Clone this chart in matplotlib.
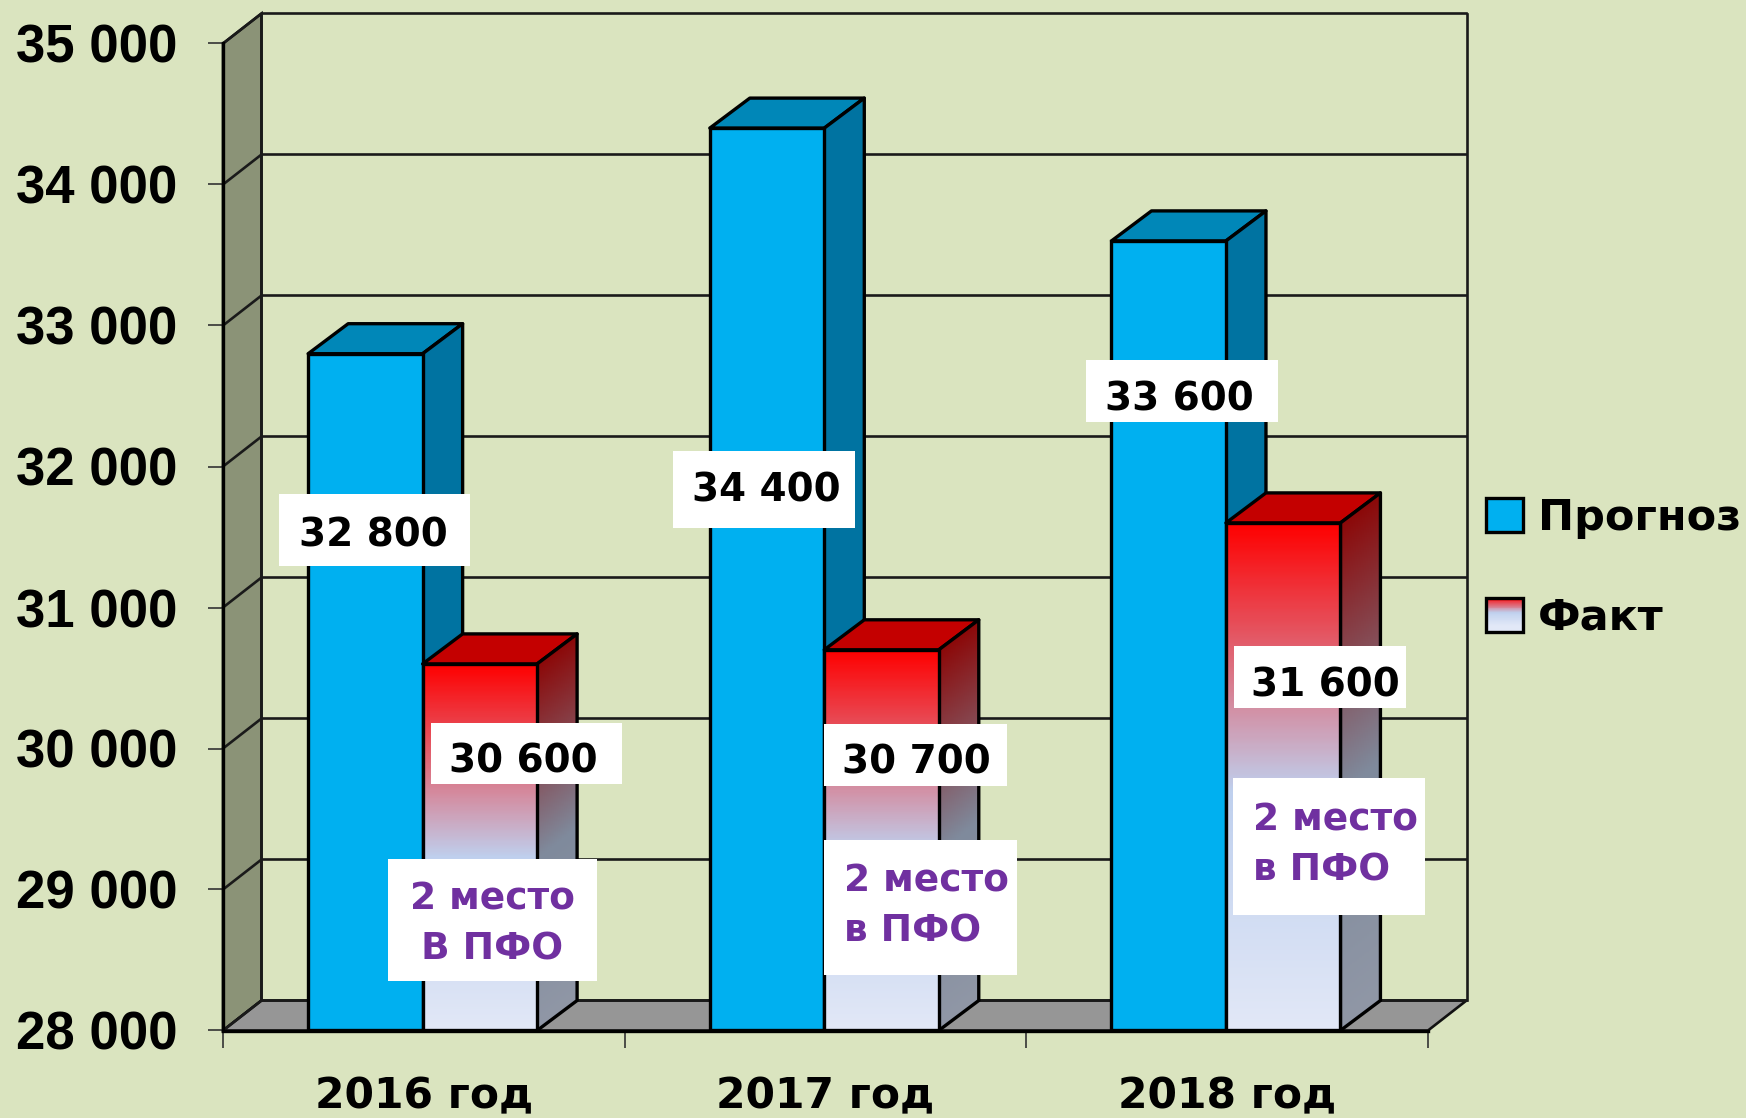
import numpy as np
import matplotlib
matplotlib.use("Agg")
import matplotlib.pyplot as plt
from matplotlib.patches import Polygon, Rectangle
from matplotlib.legend_handler import HandlerBase
from matplotlib.colors import LinearSegmentedColormap

categories = ["2016 год", "2017 год", "2018 год"]
forecast = [32800, 34400, 33600]
actual = [30600, 30700, 31600]
series_names = ["Прогноз", "Факт"]
y_ticks = [28000, 29000, 30000, 31000, 32000, 33000, 34000, 35000]
rank_notes = [["2 место", "В ПФО"], ["2 место", "в ПФО"], ["2 место", "в ПФО"]]

W, H = 1746, 1118
BG = "#DAE4BF"
BLUE, BLUE_TOP, BLUE_SIDE = "#00B0F0", "#0087B8", "#0073A1"
RED_TOP = "#C40000"
WALL, FLOOR = "#8B9377", "#969696"
PURPLE = "#7030A0"
FONT = "DejaVu Sans"
TICKFONT = "Liberation Sans"
LW = 2.4
GLW = 1.9

front_cmap = LinearSegmentedColormap.from_list(
    "front", [(0, "#FF0000"), (0.53, "#BFD0EE"), (1, "#E2E8F7")])
side_cmap = LinearSegmentedColormap.from_list(
    "side", [(0, "#8C0808"), (0.53, "#7F8A9C"), (1, "#9097A6")])

Y0, Y1 = 28000, 35000
L, R, B, T = 223, 1428, 1030.5, 43.5
BAR_W = 0.285
UNIT = (R - L) / 3
DX = 38.5 / UNIT
BAR_DX = 40 / UNIT
DY = 30 / ((B - T) / (Y1 - Y0))
BAR_SHIFT = -1.2 / UNIT

fig = plt.figure(figsize=(W / 100, H / 100), dpi=100, facecolor=BG)
ax = fig.add_axes([L / W, 1 - B / H, (R - L) / W, (B - T) / H])
ax.patch.set_visible(False)
ax.set_autoscale_on(False)
ax.set_xlim(0, 3)
ax.set_ylim(Y0, Y1)

# walls
ax.add_patch(Polygon([(0, Y0), (DX, Y0 + DY), (DX, Y1 + DY), (0, Y1)], closed=True,
                     fc=WALL, ec="#111111", lw=GLW, clip_on=False, zorder=1))
ax.add_patch(Polygon([(0, Y0), (DX, Y0 + DY), (3 + DX, Y0 + DY), (3, Y0)], closed=True,
                     fc=FLOOR, ec="#111111", lw=GLW, clip_on=False, zorder=1))
for v in y_ticks:
    ax.plot([0, DX, 3 + DX], [v, v + DY, v + DY], color="#1a1a1a", lw=GLW,
            clip_on=False, zorder=1.1, solid_joinstyle="round")
ax.plot([3 + DX, 3 + DX], [Y0 + DY, Y1 + DY], color="#1a1a1a", lw=GLW, clip_on=False, zorder=1.1)
ax.plot([DX, DX], [Y0 + DY, Y1 + DY], color="#1a1a1a", lw=GLW, clip_on=False, zorder=1.1)


def box3d(x, v, z, top, side=None):
    """top and side faces of one bar"""
    xr = x + BAR_W
    ax.add_patch(Polygon([(x, v), (x + BAR_DX, v + DY), (xr + BAR_DX, v + DY), (xr, v)], closed=True,
                         fc=top, ec="black", lw=LW, clip_on=False, zorder=z, joinstyle="round"))
    pts = [(xr, Y0), (xr + BAR_DX, Y0 + DY), (xr + BAR_DX, v + DY), (xr, v)]
    p = Polygon(pts, closed=True, fc=side if side else "none", ec="black", lw=LW,
                clip_on=False, zorder=z + 0.02, joinstyle="round")
    ax.add_patch(p)
    return p


z = 2
for i, (fv, av) in enumerate(zip(forecast, actual)):
    c = i + 0.5 + BAR_SHIFT
    # forecast
    box3d(c - BAR_W, fv, z, BLUE_TOP, BLUE_SIDE)
    ax.bar(c - BAR_W, fv - Y0, BAR_W, bottom=Y0, align="edge", color=BLUE,
           edgecolor="black", lw=LW, zorder=z + 0.1, clip_on=False)
    # actual
    z += 1
    side = box3d(c, av, z, RED_TOP)
    xr = c + BAR_W
    span = av - Y0
    yy = np.linspace(av + DY, Y0, 300)
    xx = np.linspace(0, 1, 40)
    g = (av - (yy[:, None] - xx[None, :] * DY)) / span
    im = ax.imshow(np.clip(g, 0, 1), cmap=side_cmap, vmin=0, vmax=1, aspect="auto",
                   extent=(xr, xr + BAR_DX, Y0, av + DY), origin="upper", zorder=z + 0.01,
                   interpolation="bilinear")
    im.set_clip_path(Polygon(side.get_xy(), closed=True, transform=ax.transData))
    im.set_clip_on(True)
    bars = ax.bar(c, span, BAR_W, bottom=Y0, align="edge", facecolor="none",
                  edgecolor="black", lw=LW, zorder=z + 0.2, clip_on=False)
    im2 = ax.imshow(np.linspace(0, 1, 300)[:, None], cmap=front_cmap, vmin=0, vmax=1,
                    aspect="auto", extent=(c, xr, Y0, av), origin="upper",
                    zorder=z + 0.1, interpolation="bilinear")
    z += 1

ax.set_xlim(0, 3)
ax.set_ylim(Y0, Y1)

# axes
for s in ("top", "right"):
    ax.spines[s].set_visible(False)
for s in ("left", "bottom"):
    ax.spines[s].set_linewidth(LW)
    ax.spines[s].set_zorder(50)
ax.set_yticks(y_ticks, [f"{v:,}".replace(",", " ") for v in y_ticks],
              fontsize=38, fontweight="bold", family=TICKFONT)
ax.set_xticks([0, 1, 2, 3], ["", "", "", ""])
ax.set_xticks([0.5, 1.5, 2.5], categories, minor=True, fontsize=30.5,
              fontweight="bold", family=FONT)
ax.tick_params(axis="y", length=11, width=1.2, color="#333333", pad=22)
ax.tick_params(axis="x", which="major", length=12, width=1.2, color="#333333")
ax.tick_params(axis="x", which="minor", length=0, pad=32)

# overlay in pixel coordinates for the pasted white labels
ov = fig.add_axes([0, 0, 1, 1], zorder=10)
ov.set_xlim(0, W)
ov.set_ylim(H, 0)
ov.axis("off")
S = W / 1568


def white(x0, x1, y0, y1):
    ov.add_patch(Rectangle((x0 * S, y0 * S), (x1 - x0) * S, (y1 - y0) * S, fc="white", ec="none"))


def label(x, y, s, color="black", ha="center", fs=28):
    ov.text(x * S, (y + 2.5) * S, s, color=color, ha=ha, va="center", fontsize=fs,
            fontweight="bold", family=FONT)


fmt = lambda v: f"{v:,}".replace(",", " ")
forecast_boxes = [(251, 422, 444, 508, 335, 478), (604, 768, 405, 474, 688, 438), (975, 1148, 323, 379, 1059, 356)]
actual_boxes = [(387, 559, 649, 704, 470, 681), (740, 904, 650, 706, 823, 682), (1108, 1263, 580, 636, 1190, 613)]
for v, b in zip(forecast + actual, forecast_boxes + actual_boxes):
    white(*b[:4])
    label(b[4], b[5], fmt(v))

note_boxes = [(348, 536, 771, 881), (740, 913, 754, 876), (1107, 1280, 699, 822)]
note_text = [(442, "center", 805, 850), (758, "left", 789, 834), (1125, "left", 734, 779)]
for lines, b, t in zip(rank_notes, note_boxes, note_text):
    white(*b)
    label(t[0], t[2], lines[0], PURPLE, t[1], 27)
    label(t[0], t[3], lines[1], PURPLE, t[1], 27)


# legend
class GradientHandler(HandlerBase):
    def create_artists(self, legend, orig, xd, yd, w, h, fs, trans):
        arts = []
        n = 40
        for k in range(n):
            t = k / (n - 1)
            r = Rectangle((-xd, -yd + h * (1 - (k + 1) / n)), w, h / n + 0.3,
                          fc=front_cmap(min(t * 1.2, 1.0)), ec="none", transform=trans)
            arts.append(r)
        arts.append(Rectangle((-xd, -yd), w, h, fc="none", ec="black", lw=LW, transform=trans))
        return arts


h1 = Rectangle((0, 0), 1, 1, fc=BLUE, ec="black", lw=LW)
h2 = Rectangle((0, 0), 1, 1, fc="white", ec="black", lw=LW)
leg = fig.legend([h1, h2], series_names, handler_map={h2: GradientHandler()},
                 loc="upper left", bbox_to_anchor=(1486 / W, 1 - 497 / H), borderaxespad=0,
                 borderpad=0, frameon=False, handlelength=0.85, handleheight=0.85,
                 handletextpad=0.36, labelspacing=1.34,
                 prop={"family": FONT, "weight": "bold", "size": 31})

fig.savefig("out.png", dpi=100, facecolor=BG)
